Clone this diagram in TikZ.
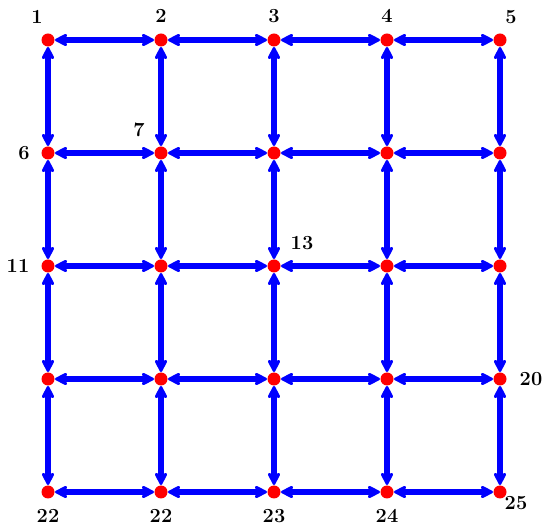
\documentclass[tikz,border=0pt]{standalone}
\usepackage{fontspec}
\usetikzlibrary{arrows.meta,calc}
\begin{document}
\begin{tikzpicture}[x=1pt,y=-1pt,
  dot/.style={circle,fill=red,inner sep=0pt,minimum size=13pt},
  edge/.style={draw=blue,line width=5.5pt,{Stealth[length=16pt,width=16pt,inset=5pt,round]}-{Stealth[length=16pt,width=16pt,inset=5pt,round]}},
  lab/.style={font=\fontsize{20}{22}\selectfont\bfseries,inner sep=0pt}]
\useasboundingbox (0,0) rectangle (544,526);
\foreach \r in {0,...,4}{
  \foreach \c in {0,...,4}{
    \pgfmathtruncatemacro\k{\r*5+\c+1}
    \coordinate (p\k) at (48+113*\c,40+113*\r);
  }
}
% edges
\foreach \r in {0,...,4}{
  \foreach \c in {1,...,4}{
    \pgfmathtruncatemacro\a{\r*5+\c}
    \pgfmathtruncatemacro\b{\r*5+\c+1}
    \path[edge] ($(p\a)+(7,0)$) -- ($(p\b)+(-7,0)$);
  }
}
\foreach \r in {0,...,3}{
  \foreach \c in {1,...,5}{
    \pgfmathtruncatemacro\a{\r*5+\c}
    \pgfmathtruncatemacro\b{\r*5+\c+5}
    \path[edge] ($(p\a)+(0,7)$) -- ($(p\b)+(0,-7)$);
  }
}
\foreach \k in {1,...,25}{ \node[dot] (n\k) at (p\k) {}; }
\node[lab,anchor=base] (l1) at (37,24) {1};
\node[lab,anchor=base] (l2) at (161,23) {2};
\node[lab,anchor=base] (l3) at (274,23) {3};
\node[lab,anchor=base] (l4) at (387,23) {4};
\node[lab,anchor=base] (l5) at (511,24) {5};
\node[lab] (l6) at (24,153) {6};
\node[lab] (l7) at (139,130) {7};
\node[lab] (l11) at (18,266) {11};
\node[lab] (l13) at (302,243) {13};
\node[lab] (l20) at (531,379) {20};
\node[lab,anchor=base] (l21) at (48,522.5) {22};
\node[lab,anchor=base] (l22) at (161,522.5) {22};
\node[lab,anchor=base] (l23) at (274,522.5) {23};
\node[lab,anchor=base] (l24) at (387,522.5) {24};
\node[lab] (l25) at (516,503) {25};
\end{tikzpicture}
\end{document}
